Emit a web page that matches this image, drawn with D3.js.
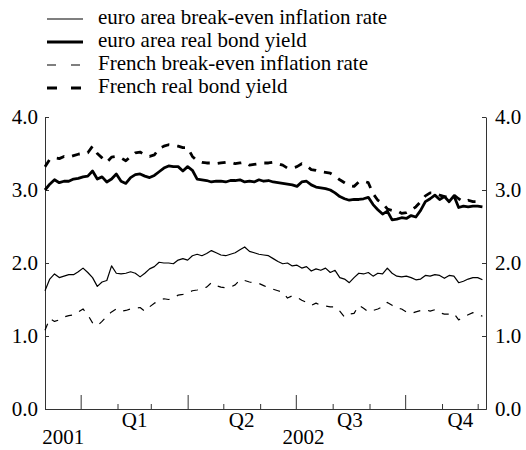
<!DOCTYPE html>
<html>
<head>
<meta charset="utf-8">
<script src="https://cdn.jsdelivr.net/npm/d3@7/dist/d3.min.js"></script>
<style>
  body { margin: 0; background: #fff; }
  svg { display: block; font-family: "Liberation Serif", "Times New Roman", serif; }
  .axis path, .axis line { stroke: #333; }
  .axis text { fill: #000; font-size: 21px; font-family: "Liberation Serif", serif; }
</style>
</head>
<body>
<svg id="chart" width="526" height="450"></svg>
<script>
// observations every 4 days, starting 2 December 2001
const startDate = new Date(2001, 11, 2);
const stepDays = 4;

const euroBreakEven = [
  1.62, 1.78, 1.85, 1.80, 1.82, 1.84, 1.84, 1.88, 1.93, 1.87,
  1.80, 1.68, 1.74, 1.76, 1.96, 1.86, 1.85, 1.86, 1.88, 1.86,
  1.81, 1.86, 1.92, 1.95, 2.01, 2.00, 2.00, 1.99, 2.04, 2.06,
  2.04, 2.10, 2.12, 2.10, 2.13, 2.17, 2.14, 2.11, 2.10, 2.12,
  2.14, 2.18, 2.22, 2.16, 2.14, 2.12, 2.11, 2.10, 2.06, 2.02,
  1.99, 2.00, 1.96, 1.97, 1.93, 1.95, 1.89, 1.92, 1.90, 1.93,
  1.87, 1.90, 1.80, 1.78, 1.73, 1.80, 1.86, 1.85, 1.87, 1.82,
  1.86, 1.85, 1.93, 1.86, 1.82, 1.81, 1.82, 1.80, 1.77, 1.78,
  1.83, 1.82, 1.84, 1.83, 1.79, 1.83, 1.82, 1.73, 1.75, 1.78,
  1.80, 1.80, 1.77
];
const euroRealYield = [
  3.00, 3.08, 3.14, 3.10, 3.12, 3.12, 3.15, 3.16, 3.18, 3.19,
  3.26, 3.15, 3.18, 3.11, 3.15, 3.22, 3.12, 3.09, 3.17, 3.21,
  3.22, 3.19, 3.17, 3.20, 3.25, 3.30, 3.33, 3.32, 3.32, 3.26,
  3.32, 3.27, 3.15, 3.14, 3.13, 3.11, 3.12, 3.12, 3.11, 3.13,
  3.13, 3.14, 3.11, 3.12, 3.11, 3.14, 3.12, 3.13, 3.11, 3.10,
  3.09, 3.08, 3.07, 3.05, 3.11, 3.12, 3.07, 3.04, 3.03, 3.02,
  3.00, 2.96, 2.91, 2.88, 2.86, 2.87, 2.87, 2.88, 2.90, 2.80,
  2.73, 2.67, 2.71, 2.59, 2.60, 2.62, 2.61, 2.65, 2.63, 2.72,
  2.84, 2.88, 2.93, 2.87, 2.91, 2.84, 2.92, 2.76, 2.78, 2.77,
  2.78, 2.78, 2.77
];
const frenchBreakEven = [
  1.08, 1.24, 1.20, 1.22, 1.26, 1.28, 1.29, 1.33, 1.37, 1.29,
  1.18, 1.14, 1.20, 1.27, 1.33, 1.37, 1.34, 1.35, 1.37, 1.38,
  1.39, 1.34, 1.40, 1.45, 1.48, 1.51, 1.50, 1.52, 1.56, 1.57,
  1.59, 1.62, 1.63, 1.65, 1.67, 1.73, 1.69, 1.67, 1.66, 1.67,
  1.70, 1.77, 1.76, 1.74, 1.73, 1.72, 1.69, 1.66, 1.64, 1.62,
  1.60, 1.52, 1.55, 1.53, 1.49, 1.46, 1.42, 1.45, 1.42, 1.41,
  1.40, 1.40, 1.34, 1.26, 1.30, 1.31, 1.42, 1.38, 1.33, 1.35,
  1.37, 1.40, 1.46, 1.42, 1.38, 1.37, 1.33, 1.31, 1.33, 1.35,
  1.36, 1.34, 1.36, 1.32, 1.30, 1.30, 1.31, 1.22, 1.26, 1.29,
  1.32, 1.30, 1.27
];
const frenchRealYield = [
  3.32, 3.42, 3.44, 3.43, 3.46, 3.45, 3.47, 3.49, 3.50, 3.51,
  3.60, 3.50, 3.44, 3.38, 3.45, 3.46, 3.44, 3.40, 3.46, 3.51,
  3.52, 3.48, 3.46, 3.48, 3.57, 3.60, 3.62, 3.61, 3.60, 3.58,
  3.58, 3.46, 3.40, 3.38, 3.37, 3.37, 3.36, 3.37, 3.38, 3.38,
  3.36, 3.37, 3.38, 3.34, 3.35, 3.36, 3.37, 3.37, 3.38, 3.36,
  3.34, 3.30, 3.30, 3.32, 3.36, 3.33, 3.28, 3.27, 3.25, 3.24,
  3.23, 3.19, 3.14, 3.10, 3.06, 3.05, 3.11, 3.12, 3.10, 2.95,
  2.86, 2.82, 2.74, 2.72, 2.72, 2.68, 2.69, 2.72, 2.77, 2.84,
  2.92, 2.96, 2.96, 2.93, 2.91, 2.90, 2.93, 2.88, 2.84, 2.86,
  2.84, 2.84, 2.82
];

const seriesNames = [
  "euro area break-even inflation rate",
  "euro area real bond yield",
  "French break-even inflation rate",
  "French real bond yield"
];

const yTicks = [0, 1, 2, 3, 4];
const quarterLabels = ["Q1", "Q2", "Q3", "Q4"];
const quarterMids = ["2002-02-15", "2002-05-16", "2002-08-15", "2002-11-16"];
const yearLabels = ["2001", "2002"];
const yearMids = ["2001-12-17", "2002-07-07"];

const parse = d3.timeParse("%Y-%m-%d");
const dates = euroRealYield.map((_, i) => d3.timeDay.offset(startDate, i * stepDays));

const svg = d3.select("#chart");
const plotLeft = 45, plotRight = 486, plotTop = 117, plotBottom = 409;

const x = d3.scaleTime()
  .domain([new Date(2001, 11, 2), new Date(2002, 11, 8)])
  .range([plotLeft, plotRight]);
const y = d3.scaleLinear().domain([0, 4]).range([plotBottom, plotTop]);

// styles for the four series, same order as seriesNames
const styles = [
  {data: euroBreakEven, width: 1.2, dash: null, legendDash: null},
  {data: euroRealYield, width: 2.8, dash: null, legendDash: null},
  {data: frenchBreakEven, width: 1.2, dash: "7,8", legendDash: "9,15"},
  {data: frenchRealYield, width: 2.8, dash: "8,8", legendDash: "10,14"}
];

// axes
svg.append("g").attr("class", "axis")
  .attr("transform", `translate(${plotLeft},0)`)
  .call(d3.axisLeft(y).tickValues(yTicks).tickFormat(d3.format(".1f"))
    .tickSize(-4).tickSizeOuter(0).tickPadding(7));

svg.append("g").attr("class", "axis")
  .attr("transform", `translate(${plotRight},0)`)
  .call(d3.axisRight(y).tickValues(yTicks).tickFormat(d3.format(".1f"))
    .tickSize(-4).tickSizeOuter(0).tickPadding(9));

const months = d3.timeMonth.range(new Date(2002, 0, 1), new Date(2002, 11, 8));
const quarterStarts = months.filter(d => d.getMonth() % 3 === 0);
const otherMonths = months.filter(d => d.getMonth() % 3 !== 0);

svg.append("g").attr("class", "axis")
  .attr("transform", `translate(0,${plotBottom})`)
  .call(d3.axisBottom(x).tickValues(otherMonths).tickFormat("")
    .tickSize(-5).tickSizeOuter(0));

svg.append("g").attr("class", "axis")
  .attr("transform", `translate(0,${plotBottom})`)
  .call(d3.axisBottom(x).tickValues(quarterStarts).tickFormat("")
    .tickSize(-14).tickSizeOuter(0));

svg.append("g").attr("class", "axis")
  .attr("transform", `translate(0,${plotBottom})`)
  .call(d3.axisBottom(x).tickValues(quarterMids.map(parse))
    .tickFormat((d, i) => quarterLabels[i]).tickSize(0).tickPadding(3))
  .call(g => g.select(".domain").remove());

svg.append("g").attr("class", "axis")
  .attr("transform", `translate(0,${plotBottom})`)
  .call(d3.axisBottom(x).tickValues(yearMids.map(parse))
    .tickFormat((d, i) => yearLabels[i]).tickSize(0).tickPadding(20))
  .call(g => g.select(".domain").remove());

// lines
const line = d3.line()
  .x((d, i) => x(dates[i]))
  .y(d => y(d));

svg.append("g").selectAll("path")
  .data(styles)
  .join("path")
  .attr("d", s => line(s.data))
  .attr("fill", "none")
  .attr("stroke", "#000")
  .attr("stroke-width", s => s.width)
  .attr("stroke-linejoin", "round")
  .attr("stroke-dasharray", s => s.dash);

// legend
const legend = svg.append("g").selectAll("g")
  .data(styles)
  .join("g")
  .attr("transform", (s, i) => `translate(0,${24 + i * 23})`);

legend.append("line")
  .attr("x1", 47).attr("x2", 83)
  .attr("y1", -5).attr("y2", -5)
  .attr("stroke", "#000")
  .attr("stroke-width", s => s.width)
  .attr("stroke-dasharray", s => s.legendDash);

legend.append("text")
  .attr("x", 98)
  .attr("font-size", 21)
  .text((s, i) => seriesNames[i]);
</script>
</body>
</html>
